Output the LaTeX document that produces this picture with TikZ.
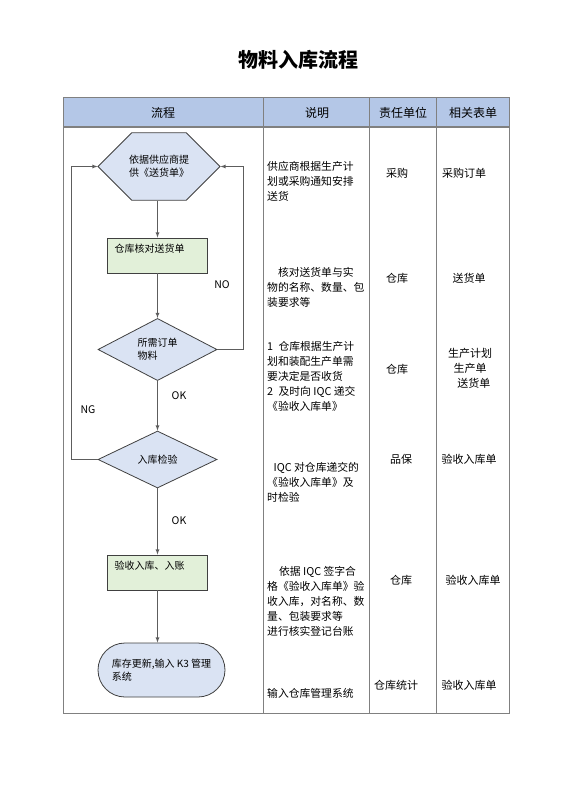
\documentclass[tikz,border=0pt]{standalone}
\usepackage{fontspec}
\setmainfont{Noto Sans CJK SC}
\usetikzlibrary{shapes,arrows}

\definecolor{headblue}{RGB}{180,199,231}
\definecolor{flowblue}{RGB}{218,227,243}
\definecolor{flowgreen}{RGB}{226,240,217}
\definecolor{gridgray}{RGB}{128,128,128}
\definecolor{edgegray}{RGB}{64,64,64}

\begin{document}
\begin{tikzpicture}[x=1pt,y=-1pt]
    \tikzstyle{cell} = [draw=none,fill=none,align=center,inner sep=0,font=\fontsize{11}{15}\selectfont]
    \tikzstyle{desc} = [cell,align=left,anchor=west,font=\fontsize{10.8}{15}\selectfont]
    \tikzstyle{flow} = [draw=edgegray,line width=0.8pt,align=left,inner sep=0,font=\fontsize{10}{13}\selectfont]
    \tikzstyle{proc} = [flow,rectangle,fill=flowgreen,text width=86pt,minimum width=100pt,minimum height=35pt,inner xsep=7pt,text height=8pt,text depth=15pt]
    \tikzstyle{ann} = [draw=none,fill=none,inner sep=0,font=\fontsize{10.5}{12}\selectfont]
    \tikzstyle{line} = [draw=edgegray!85,line width=0.8pt,->,>=latex]

    \useasboundingbox (0,0) rectangle (560,792);
    \node[font=\fontsize{20}{24}\selectfont\bfseries] (title) at (298,60) {物料入库流程};

    % table frame
    \fill[headblue] (63,97) rectangle (509,127);
    \draw[gridgray] (63,97) rectangle (509,713);
    \draw[gridgray,line width=1.2pt] (63,127) -- (509,127);
    \foreach \x in {263,369,436}
        \draw[gridgray] (\x,97) -- (\x,713);

    \node[cell,font=\fontsize{12}{15}\selectfont] (hflow) at (163,113) {流程};
    \node[cell,font=\fontsize{12}{15}\selectfont] (hnote) at (317,113) {说明};
    \node[cell,font=\fontsize{12}{15}\selectfont] (hdept) at (403,113) {责任单位};
    \node[cell,font=\fontsize{12}{15}\selectfont] (hform) at (473,113) {相关表单};

    % flow chart
    \node[flow,chamfered rectangle,chamfered rectangle xsep=15pt,chamfered rectangle ysep=22.5pt,
        minimum width=122pt,minimum height=45pt,fill=flowblue] (supply) at (159,166.5) {依据供应商提\\供《送货单》};
    \node[proc] (check) at (157.5,255.5) {仓库核对送货单};
    \node[flow,diamond,minimum width=119pt,minimum height=57pt,fill=flowblue] (need) at (157.5,349.5) {所需订单\\物料};
    \node[flow,diamond,minimum width=119pt,minimum height=57pt,fill=flowblue] (inspect) at (157.5,459.5) {入库检验};
    \node[proc] (accept) at (157.5,572.5) {验收入库、入账};
    \node[flow,rounded rectangle,minimum width=127pt,minimum height=54pt,fill=flowblue] (update) at (161.5,670) {库存更新,输入 K3 管理\\系统};

    \draw[line] (supply.south -| check) -- (check);
    \draw[line] (check) -- (need);
    \draw[line] (need) -- (inspect);
    \draw[line] (inspect) -- (accept);
    \draw[line] (accept) -- (accept |- update.north);
    \draw[line] (need.east) -- ++(26,0) |- (supply.east);
    \draw[line] (inspect.west) -- ++(-26,0) |- (supply.west);

    \node[ann] (no) at (222,285) {NO};
    \node[ann] (ok1) at (179,396) {OK};
    \node[ann] (ng) at (88,410) {NG};
    \node[ann] (ok2) at (179,521) {OK};

    % notes
    \node[desc] (n1) at (267,181) {供应商根据生产计\\划或采购通知安排\\送货};
    \node[desc] (n2) at (267,287) {\hspace{1em}核对送货单与实\\物的名称、数量、包\\装要求等};
    \node[desc] (n3) at (267,376) {1\hspace{0.5em}仓库根据生产计\\划和装配生产单需\\要决定是否收货\\2\hspace{0.5em}及时向 IQC 递交\\《验收入库单》};
    \node[desc] (n4) at (267,482) {\hspace{0.6em}IQC 对仓库递交的\\《验收入库单》及\\时检验};
    \node[desc] (n5) at (267,601) {\hspace{1.1em}依据 IQC 签字合\\格《验收入库单》验\\收入库，对名称、数\\量、包装要求等\\进行核实登记台账};
    \node[desc] (n6) at (267,693) {输入仓库管理系统};

    % departments and forms
    \node[cell] (d1) at (397,173) {采购};
    \node[cell] (d2) at (397,278) {仓库};
    \node[cell] (d3) at (397,369) {仓库};
    \node[cell] (d4) at (401,459) {品保};
    \node[cell] (d5) at (401,580) {仓库};
    \node[cell] (d6) at (396,685) {仓库统计};

    \node[cell] (f1) at (464,173) {采购订单};
    \node[cell] (f2) at (469,278) {送货单};
    \node[cell] (f3) at (470,368) {生产计划\\生产单\\\hspace{0.7em}送货单};
    \node[cell] (f4) at (469,459) {验收入库单};
    \node[cell] (f5) at (473,580) {验收入库单};
    \node[cell] (f6) at (469,685) {验收入库单};
\end{tikzpicture}
\end{document}
